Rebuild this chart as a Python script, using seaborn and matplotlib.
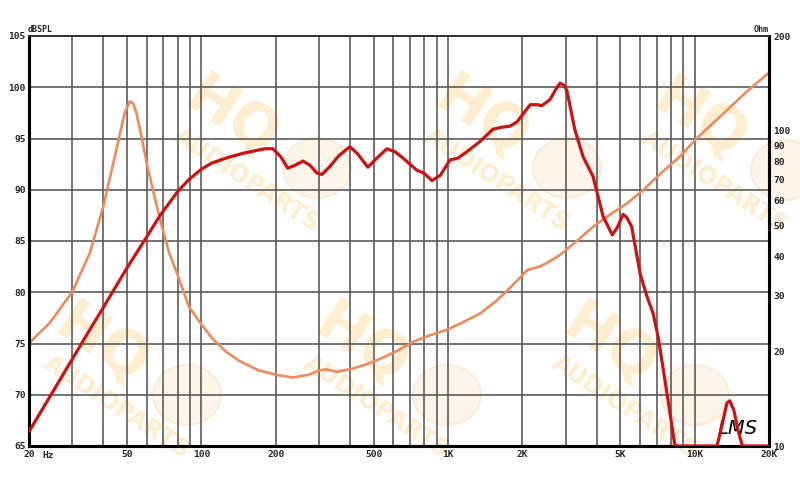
import matplotlib
matplotlib.use("Agg")
import matplotlib.pyplot as plt
import seaborn as sns
from matplotlib.ticker import FixedLocator, NullLocator, FixedFormatter, NullFormatter

# ---------------- data ----------------
spl_freq = [20, 25, 30, 35, 40, 50, 60, 68, 80, 89, 100, 110, 130, 150, 181, 195,
            210, 224, 240, 258, 275, 295, 308, 330, 360, 400, 430, 473, 510, 565,
            610, 656, 700, 748, 800, 861, 930, 1017, 1100, 1191, 1346, 1520, 1650,
            1783, 1900, 2000, 2155, 2300, 2400, 2590, 2750, 2846, 2950, 3030, 3270,
            3530, 3870, 4250, 4630, 4850, 5120, 5300, 5550, 6010, 6400, 6770, 7100,
            7430, 7940, 8300, 8600, 12300, 12900, 13500, 13880, 14400, 15000, 15600, 20000]
spl_db = [66.4, 70.3, 73.5, 76.2, 78.5, 82.4, 85.4, 87.5, 89.8, 91.0, 92.0, 92.6, 93.2,
          93.6, 94.0, 94.0, 93.2, 92.1, 92.4, 92.8, 92.4, 91.6, 91.5, 92.2, 93.3, 94.2,
          93.5, 92.2, 93.0, 94.0, 93.7, 93.1, 92.5, 91.9, 91.6, 90.9, 91.4, 92.9, 93.1,
          93.7, 94.7, 95.9, 96.1, 96.2, 96.6, 97.3, 98.3, 98.3, 98.2, 98.8, 99.9, 100.4,
          100.2, 99.7, 95.8, 93.2, 91.3, 87.4, 85.6, 86.3, 87.6, 87.3, 86.4, 81.8, 79.6,
          78.0, 75.7, 72.7, 68.2, 65.1, 65.0, 65.0, 67.0, 69.2, 69.4, 68.5, 66.5, 65.0, 65.0]

imp_freq = [20, 24.3, 30, 35.3, 40, 45.5, 49, 51.3, 53, 54.5, 57, 60, 66, 70, 74, 80,
            89, 100, 111, 125, 143, 170, 203, 234, 270, 303, 320, 354, 410, 470, 530,
            620, 720, 850, 990, 1150, 1346, 1580, 1800, 2100, 2350, 2500, 2846, 3300,
            3870, 4500, 5320, 6200, 7280, 8700, 10200, 13000, 16200, 20000]
imp_ohm = [21.2, 24.6, 30.9, 41, 57.5, 89, 115, 124, 122, 114, 97, 79, 57.5, 48, 41, 35,
           27.7, 24.3, 21.9, 20.0, 18.6, 17.4, 16.8, 16.5, 16.8, 17.4, 17.5, 17.2, 17.6,
           18.2, 18.9, 20.0, 21.4, 22.5, 23.4, 24.7, 26.3, 29.0, 32, 36.2, 37.1, 38, 40.4,
           44.5, 49.6, 54, 58.9, 65, 73.3, 82.8, 94.8, 113, 133, 153]

x_major = [20, 50, 100, 200, 500, 1000, 2000, 5000, 10000, 20000]
x_labels = ["20", "50", "100", "200", "500", "1K", "2K", "5K", "10K", "20K"]
x_minor = [30, 40, 60, 70, 80, 90, 300, 400, 600, 700, 800, 900,
           3000, 4000, 6000, 7000, 8000, 9000]
spl_ticks = [65, 70, 75, 80, 85, 90, 95, 100, 105]
ohm_ticks = [10, 20, 30, 40, 50, 60, 70, 80, 90, 100, 200]

# ---------------- style ----------------
sns.set_style("white")
plt.rcParams["font.family"] = ["DejaVu Sans"]

W, H = 800, 484
fig = plt.figure(figsize=(W / 100, H / 100), dpi=100)
fig.patch.set_facecolor("white")
ax = fig.add_axes([29 / W, 38 / H, 740 / W, 410 / H])

lab_font = dict(family="DejaVu Sans Mono", weight="bold", size=6.8)
grid_col = "#555555"

# watermark (behind everything)
wm_col = "#feedcf"
def watermark(cx, cy):
    fig.text(cx / W, 1 - cy / H, "HQ", color=wm_col, fontsize=42, fontweight="bold",
             rotation=-33, rotation_mode="anchor", ha="center", va="center", zorder=-5)
    fig.text((cx + 15) / W, 1 - (cy + 62) / H, "AUDIOPARTS", color=wm_col, fontsize=17,
             fontweight="bold", rotation=-33, rotation_mode="anchor", ha="center",
             va="center", zorder=-5)
    circ = matplotlib.patches.Ellipse(((cx + 85) / W, 1 - (cy + 50) / H), 68 / W, 60 / H,
                                      transform=fig.transFigure, facecolor="#fdf5ea",
                                      edgecolor="#fbecd8", lw=1.5, zorder=-6)
    fig.patches.append(circ)

for cx, cy in [(232, 118), (482, 118), (700, 120),
               (102, 345), (362, 345), (610, 345)]:
    watermark(cx, cy)
ax.patch.set_alpha(0)

# axes setup
ax.set_xscale("log")
ax.set_xlim(20, 20000)
ax.set_ylim(65, 105)
ax.xaxis.set_major_locator(FixedLocator(x_major))
ax.xaxis.set_major_formatter(FixedFormatter(x_labels))
ax.xaxis.set_minor_locator(FixedLocator(x_minor))
ax.xaxis.set_minor_formatter(NullFormatter())
ax.set_yticks(spl_ticks)
ax.set_yticklabels([str(v) for v in spl_ticks])
ax.grid(True, which="both", axis="x", color=grid_col, lw=1.15)
ax.grid(True, which="major", axis="y", color=grid_col, lw=1.15)
ax.set_axisbelow(True)
ax.tick_params(axis="both", which="both", length=0)
ax.tick_params(axis="x", pad=3)
ax.tick_params(axis="y", pad=2.5)
for lbl in ax.get_xticklabels() + ax.get_yticklabels():
    lbl.set_fontfamily(lab_font["family"]); lbl.set_fontweight("bold"); lbl.set_fontsize(lab_font["size"])

# impedance axis
ax2 = ax.twinx()
ax2.set_yscale("log")
ax2.set_ylim(10, 200)
sns.lineplot(x=imp_freq, y=imp_ohm, ax=ax2, color="#ef8a5c", linewidth=1.9)
ax2.set_ylim(10, 200)
ax2.yaxis.set_major_locator(FixedLocator(ohm_ticks))
ax2.yaxis.set_major_formatter(FixedFormatter([str(v) for v in ohm_ticks]))
ax2.yaxis.set_minor_locator(NullLocator())
ax2.tick_params(axis="y", which="both", length=0, pad=3)
for lbl in ax2.get_yticklabels():
    lbl.set_fontfamily(lab_font["family"]); lbl.set_fontweight("bold"); lbl.set_fontsize(lab_font["size"])
ax2.set_ylabel("")

# SPL curve on top
ax3 = ax.twinx()
sns.lineplot(x=spl_freq, y=spl_db, ax=ax3, color="#cc1212", linewidth=2.3)
ax3.set_ylim(65, 105)
ax3.set_xlim(20, 20000)
ax3.axis("off")

for a in (ax, ax2):
    a.set_xlabel(""); a.set_ylabel("")
    a.spines["left"].set_color("black"); a.spines["left"].set_linewidth(2.2)
    a.spines["bottom"].set_color("black"); a.spines["bottom"].set_linewidth(2.2)
    a.spines["right"].set_color("black"); a.spines["right"].set_linewidth(2.2)
    a.spines["top"].set_color("#333333"); a.spines["top"].set_linewidth(1.3)

# extra labels
ax.text(19 / 740, -0.012, "Hz", transform=ax.transAxes, ha="center", va="top", **lab_font)
fig.text(28 / W, 1 - 29 / H, "dBSPL", ha="left", va="center", family="DejaVu Sans Mono",
         weight="bold", size=6)
fig.text(769 / W, 1 - 30 / H, "Ohm", ha="right", va="center", family="DejaVu Sans Mono",
         weight="bold", size=6)
ax.text(738 / W, 1 - 428 / H, "LMS", transform=fig.transFigure, ha="center", va="center",
        fontsize=14, style="italic", color="black", zorder=10)

fig.savefig("out.png", dpi=100, facecolor="white")
